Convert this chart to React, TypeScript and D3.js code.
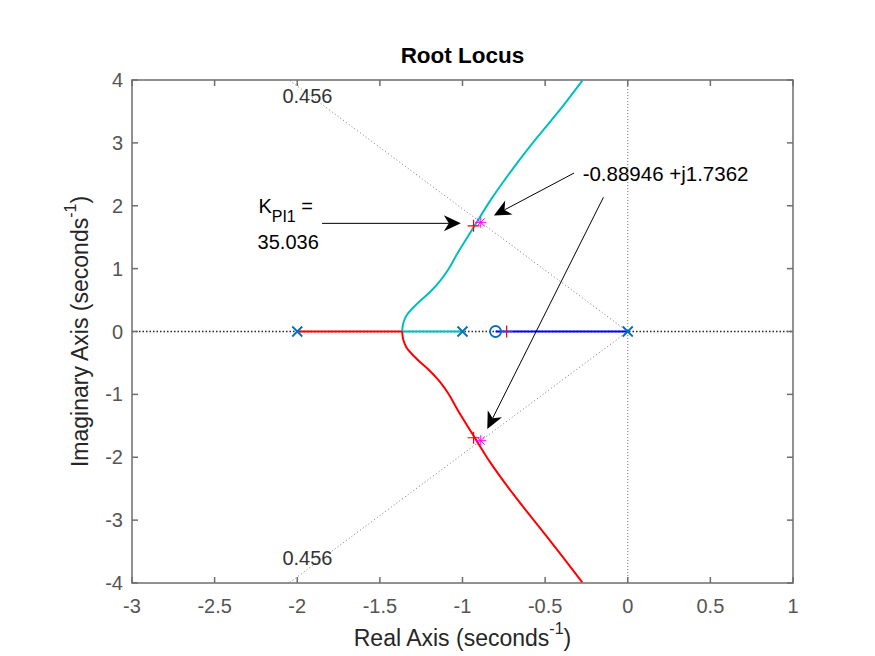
import { useEffect, useRef } from 'react';
import * as d3 from 'd3';

// open-loop poles and zeros
const poles = [-2, -1, 0];
const zeros = [-0.8];

// root locus branches (real, imag)
const redRealAxis: [number, number][] = [[-2, 0], [-1.365, 0]];
const redLower: [number, number][] = [
    [-1.365, 0], [-1.359, -0.122], [-1.339, -0.254], [-1.305, -0.361], [-1.255, -0.49], [-1.2, -0.62],
    [-1.14, -0.79], [-1.085, -0.99], [-1.032, -1.235], [-0.93, -1.67], [-0.83, -2.09], [-0.689, -2.6],
    [-0.487, -3.27], [-0.275, -3.99],
];
const cyanRealAxis: [number, number][] = [[-1, 0], [-1.365, 0]];
const cyanUpper: [number, number][] = [
    [-1.365, 0], [-1.359, 0.122], [-1.339, 0.254], [-1.305, 0.361], [-1.255, 0.49], [-1.2, 0.62],
    [-1.14, 0.79], [-1.085, 0.99], [-1.032, 1.235], [-0.932, 1.66], [-0.83, 2.09], [-0.689, 2.61],
    [-0.547, 3.09], [-0.406, 3.54], [-0.275, 3.99],
];
const blueRealAxis: [number, number][] = [[0, 0], [-0.8, 0]];

// closed-loop poles for K = 35.036 (red +) and selected point (magenta *)
const gainPoints: [number, number][] = [[-0.933, 1.68], [-0.933, -1.69], [-0.733, 0]];
const selectedPoints: [number, number][] = [[-0.88946, 1.7362], [-0.88946, -1.7362]];

const zeta = 0.456;
const xTicks = [-3, -2.5, -2, -1.5, -1, -0.5, 0, 0.5, 1];
const yTicks = [-4, -3, -2, -1, 0, 1, 2, 3, 4];

// annotation arrows [start, tip] in data units
const arrows: [[number, number], [number, number]][] = [
    [[-1.85, 1.72], [-1.01, 1.72]],
    [[-0.325, 2.52], [-0.81, 1.845]],
    [[-0.147, 2.135], [-0.85, -1.55]],
];

export default function App() {
    const svgRef = useRef<SVGSVGElement>(null);

    useEffect(() => {
        const svg = d3.select(svgRef.current);
        svg.selectAll('*').remove();

        const W = 875;
        const H = 656;
        const margin = { top: 80, right: 82, bottom: 73, left: 132 };
        const font = "'Liberation Sans', Arial, Helvetica, sans-serif";
        const axisColor = '#262626';
        const tickColor = '#555';

        svg.attr('width', W).attr('height', H).style('background', '#fff');

        const x = d3.scaleLinear().domain([-3, 1]).range([margin.left, W - margin.right]);
        const y = d3.scaleLinear().domain([-4, 4]).range([H - margin.bottom, margin.top]);

        svg.append('clipPath').attr('id', 'plot-clip')
            .append('rect')
            .attr('x', x(-3)).attr('y', y(4))
            .attr('width', x(1) - x(-3)).attr('height', y(-4) - y(4));

        const plot = svg.append('g').attr('clip-path', 'url(#plot-clip)');

        // damping ratio grid lines
        const slope = Math.tan(Math.acos(zeta));
        [1, -1].forEach((s) => {
            plot.append('line')
                .attr('x1', x(0)).attr('y1', y(0))
                .attr('x2', x(-4 / slope)).attr('y2', y(s * 4))
                .attr('stroke', '#555').attr('stroke-width', 0.8)
                .attr('stroke-dasharray', '1,2.5');
        });
        // imaginary axis
        plot.append('line')
            .attr('x1', x(0)).attr('x2', x(0)).attr('y1', y(4)).attr('y2', y(-4))
            .attr('stroke', '#555').attr('stroke-width', 0.8).attr('stroke-dasharray', '1,2');
        // real axis
        plot.append('line')
            .attr('x1', x(-3)).attr('x2', x(1)).attr('y1', y(0)).attr('y2', y(0))
            .attr('stroke', '#262626').attr('stroke-width', 1.3).attr('stroke-dasharray', '1.5,2');

        const line = d3.line<[number, number]>().x((d) => x(d[0])).y((d) => y(d[1]));
        const curve = d3.line<[number, number]>().x((d) => x(d[0])).y((d) => y(d[1])).curve(d3.curveCatmullRom.alpha(0.5));

        const branches: [[number, number][], string, boolean][] = [
            [cyanRealAxis, '#00bfbf', false],
            [cyanUpper, '#00bfbf', true],
            [redRealAxis, '#ff0000', false],
            [redLower, '#ff0000', true],
            [blueRealAxis, '#0000ff', false],
        ];
        branches.forEach(([pts, color, smooth]) => {
            plot.append('path')
                .attr('d', (smooth ? curve : line)(pts))
                .attr('fill', 'none')
                .attr('stroke', color)
                .attr('stroke-width', 2);
        });

        // poles (x) and zeros (o)
        const mk = 5;
        poles.forEach((p) => {
            plot.append('path')
                .attr('d', `M${x(p) - mk},${y(0) - mk}L${x(p) + mk},${y(0) + mk}M${x(p) - mk},${y(0) + mk}L${x(p) + mk},${y(0) - mk}`)
                .attr('stroke', '#0072bd').attr('stroke-width', 1.8);
        });
        zeros.forEach((z) => {
            plot.append('circle')
                .attr('cx', x(z)).attr('cy', y(0)).attr('r', 5.5)
                .attr('fill', 'none').attr('stroke', '#0072bd').attr('stroke-width', 1.8);
        });

        gainPoints.forEach(([re, im]) => {
            const cx = x(re);
            const cy = y(im);
            plot.append('path')
                .attr('d', `M${cx - 6},${cy}L${cx + 6},${cy}M${cx},${cy - 6}L${cx},${cy + 6}`)
                .attr('stroke', '#ff0000').attr('stroke-width', 1.2);
        });
        selectedPoints.forEach(([re, im]) => {
            const cx = x(re);
            const cy = y(im);
            const r = 5.5;
            const d = r * 0.72;
            plot.append('path')
                .attr('d', `M${cx - r},${cy}L${cx + r},${cy}M${cx},${cy - r}L${cx},${cy + r}M${cx - d},${cy - d}L${cx + d},${cy + d}M${cx - d},${cy + d}L${cx + d},${cy - d}`)
                .attr('stroke', '#ff00ff').attr('stroke-width', 1);
        });

        // box and ticks
        const axes = svg.append('g');
        axes.append('rect')
            .attr('x', x(-3)).attr('y', y(4))
            .attr('width', x(1) - x(-3)).attr('height', y(-4) - y(4))
            .attr('fill', 'none').attr('stroke', '#6e6e6e').attr('stroke-width', 1.5);

        const tl = 6;
        xTicks.forEach((t) => {
            axes.append('line')
                .attr('x1', x(t)).attr('x2', x(t)).attr('y1', y(-4)).attr('y2', y(-4) - tl)
                .attr('stroke', '#6e6e6e').attr('stroke-width', 1.5);
            axes.append('line')
                .attr('x1', x(t)).attr('x2', x(t)).attr('y1', y(4)).attr('y2', y(4) + tl)
                .attr('stroke', '#6e6e6e').attr('stroke-width', 1.5);
            axes.append('text')
                .attr('x', x(t)).attr('y', y(-4) + 30)
                .attr('text-anchor', 'middle')
                .attr('font-family', font).attr('font-size', 20).attr('fill', tickColor)
                .text(String(t));
        });
        yTicks.forEach((t) => {
            axes.append('line')
                .attr('x1', x(-3)).attr('x2', x(-3) + tl).attr('y1', y(t)).attr('y2', y(t))
                .attr('stroke', '#6e6e6e').attr('stroke-width', 1.5);
            axes.append('line')
                .attr('x1', x(1)).attr('x2', x(1) - tl).attr('y1', y(t)).attr('y2', y(t))
                .attr('stroke', '#6e6e6e').attr('stroke-width', 1.5);
            axes.append('text')
                .attr('x', x(-3) - 9).attr('y', y(t) + 7)
                .attr('text-anchor', 'end')
                .attr('font-family', font).attr('font-size', 20).attr('fill', tickColor)
                .text(String(t));
        });

        // title and axis labels
        svg.append('text')
            .attr('x', (x(-3) + x(1)) / 2).attr('y', 63)
            .attr('text-anchor', 'middle')
            .attr('font-family', font).attr('font-size', 22.5).attr('font-weight', 'bold').attr('fill', '#000')
            .text('Root Locus');

        const xl = svg.append('text')
            .attr('x', (x(-3) + x(1)) / 2).attr('y', 646)
            .attr('text-anchor', 'middle')
            .attr('font-family', font).attr('font-size', 23).attr('fill', axisColor);
        xl.append('tspan').text('Real Axis (seconds');
        xl.append('tspan').attr('dy', -12).attr('font-size', 16).text('-1');
        xl.append('tspan').attr('dy', 12).text(')');

        const yl = svg.append('text')
            .attr('transform', `translate(88,${(y(4) + y(-4)) / 2}) rotate(-90)`)
            .attr('text-anchor', 'middle')
            .attr('font-family', font).attr('font-size', 23).attr('fill', axisColor);
        yl.append('tspan').text('Imaginary Axis (seconds');
        yl.append('tspan').attr('dy', -12).attr('font-size', 16).text('-1');
        yl.append('tspan').attr('dy', 12).text(')');

        // damping labels
        [[-2.09, 3.63], [-2.09, -3.72]].forEach(([re, im]) => {
            svg.append('text')
                .attr('x', x(re)).attr('y', y(im))
                .attr('font-family', font).attr('font-size', 20).attr('fill', '#333')
                .text(String(zeta));
        });

        // arrows
        arrows.forEach(([s, e]) => {
            const x1 = x(s[0]);
            const y1 = y(s[1]);
            const x2 = x(e[0]);
            const y2 = y(e[1]);
            const ang = Math.atan2(y2 - y1, x2 - x1);
            const len = 17;
            const half = 8;
            const notch = 12;
            const ux = Math.cos(ang);
            const uy = Math.sin(ang);
            const bx = x2 - ux * len;
            const by = y2 - uy * len;
            const nx = x2 - ux * notch;
            const ny = y2 - uy * notch;
            svg.append('line')
                .attr('x1', x1).attr('y1', y1).attr('x2', nx).attr('y2', ny)
                .attr('stroke', '#000').attr('stroke-width', 1);
            svg.append('path')
                .attr('d', `M${x2},${y2}L${bx - uy * half},${by + ux * half}L${nx},${ny}L${bx + uy * half},${by - ux * half}Z`)
                .attr('fill', '#000');
        });

        // annotation texts
        svg.append('text')
            .attr('x', x(-0.273)).attr('y', y(2.39))
            .attr('font-family', font).attr('font-size', 20.5).attr('fill', '#000')
            .text('-0.88946 +j1.7362');

        const k = svg.append('text')
            .attr('x', x(-2.235)).attr('y', y(1.88))
            .attr('font-family', font).attr('font-size', 20).attr('fill', '#000');
        k.append('tspan').text('K');
        k.append('tspan').attr('dy', 9).attr('font-size', 16).text('PI1');
        k.append('tspan').attr('dy', -9).text(' =');

        svg.append('text')
            .attr('x', x(-2.24)).attr('y', y(1.32))
            .attr('font-family', font).attr('font-size', 20).attr('fill', '#000')
            .text('35.036');
    }, []);

    return (
        <div style={{ position: 'fixed', left: 0, top: 0 }}>
            <svg ref={svgRef}></svg>
        </div>
    );
}
